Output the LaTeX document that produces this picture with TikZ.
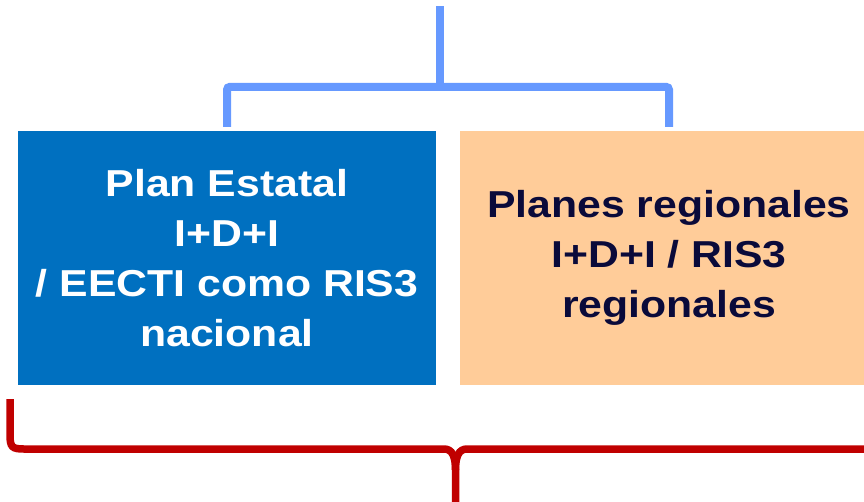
\documentclass[tikz,border=0pt]{standalone}
\usepackage{fontspec}
\setmainfont{Liberation Sans}[FakeStretch=1.14]
\usepackage{xcolor}
\usetikzlibrary{positioning}
\usetikzlibrary{calc}
\definecolor{boxblue}{HTML}{0070C0}
\definecolor{boxorange}{HTML}{FFCC99}
\definecolor{linkblue}{HTML}{6699FF}
\definecolor{bracered}{HTML}{C00000}
\definecolor{darknavy}{HTML}{0A0A3A}

\begin{document}
\begin{tikzpicture}[x=1pt,y=-1pt,
        planbox/.style={rectangle, inner sep=0pt, minimum width=418pt, minimum height=254pt,
            align=center, font=\fontsize{37.5}{50}\selectfont\bfseries},
        link/.style={line width=8pt, draw=linkblue, rounded corners=3pt},
        brace/.style={line width=7.5pt, draw=bracered},]

        \useasboundingbox (0,0) rectangle (864,501);
        \clip (0,0) rectangle (864,501);

        \node[planbox, fill=boxblue, text=white] (estatal) at (227,258)
            {Plan Estatal\\I+D+I\\/ EECTI como RIS3\\nacional};
        \node[planbox, fill=boxorange, text=darknavy] (regional) at (669,258)
            {Planes regionales\\I+D+I / RIS3\\regionales};

        % connector on top
        \coordinate (top) at (440,6);
        \draw[link] ([yshift=4pt]estatal.north) -- ++(0,-40) -| ([yshift=4pt]regional.north);
        \draw[link, rounded corners=0pt] (top) -- ($(top)+(0,83)$);

        % brace below
        \coordinate (bracel) at (10,399);
        \coordinate (tip) at (455.5,505);
        \coordinate (bracer) at (870,449);
        \draw[brace] (bracel) -- (10,435) .. controls (10,447) and (12,449) .. (24,449)
            -- (444,449) .. controls (452,449) and (455.5,456) .. (455.5,470) -- (tip);
        \draw[brace] (bracer) -- (467,449) .. controls (459,449) and (455.5,456) .. (455.5,470);
    \end{tikzpicture}
\end{document}
